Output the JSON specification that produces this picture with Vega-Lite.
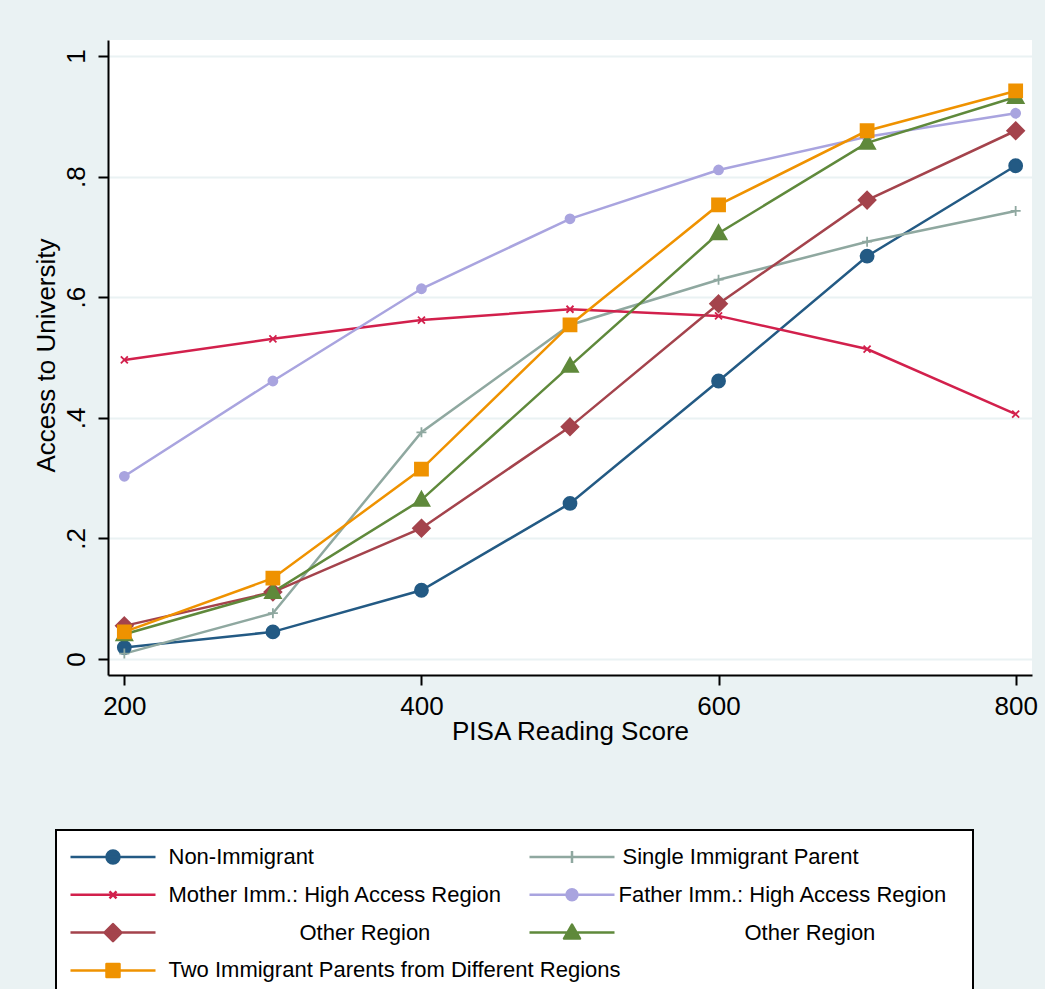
{
  "$schema": "https://vega.github.io/schema/vega-lite/v6.json",
  "background": "#eaf2f3",
  "padding": {"left": 33, "top": 40, "right": 0, "bottom": 0},
  "config": {"view": {"stroke": null, "fill": "white"}, "font": "Liberation Sans"},
  "spacing": 33,
  "resolve": {"scale": {"color": "independent", "shape": "independent"}, "legend": {"color": "independent", "shape": "independent"}},
  "datasets": {
    "d": [
      {"series": "Non-Immigrant", "score": 200, "access": 0.019},
      {"series": "Non-Immigrant", "score": 300, "access": 0.045},
      {"series": "Non-Immigrant", "score": 400, "access": 0.114},
      {"series": "Non-Immigrant", "score": 500, "access": 0.258},
      {"series": "Non-Immigrant", "score": 600, "access": 0.461},
      {"series": "Non-Immigrant", "score": 700, "access": 0.668},
      {"series": "Non-Immigrant", "score": 800, "access": 0.818},
      {"series": "Single Immigrant Parent", "score": 200, "access": 0.009},
      {"series": "Single Immigrant Parent", "score": 300, "access": 0.076},
      {"series": "Single Immigrant Parent", "score": 400, "access": 0.376},
      {"series": "Single Immigrant Parent", "score": 500, "access": 0.554},
      {"series": "Single Immigrant Parent", "score": 600, "access": 0.629},
      {"series": "Single Immigrant Parent", "score": 700, "access": 0.692},
      {"series": "Single Immigrant Parent", "score": 800, "access": 0.743},
      {"series": "Mother Imm.: High Access Region", "score": 200, "access": 0.496},
      {"series": "Mother Imm.: High Access Region", "score": 300, "access": 0.531},
      {"series": "Mother Imm.: High Access Region", "score": 400, "access": 0.562},
      {"series": "Mother Imm.: High Access Region", "score": 500, "access": 0.580},
      {"series": "Mother Imm.: High Access Region", "score": 600, "access": 0.569},
      {"series": "Mother Imm.: High Access Region", "score": 700, "access": 0.514},
      {"series": "Mother Imm.: High Access Region", "score": 800, "access": 0.406},
      {"series": "Father Imm.: High Access Region", "score": 200, "access": 0.303},
      {"series": "Father Imm.: High Access Region", "score": 300, "access": 0.461},
      {"series": "Father Imm.: High Access Region", "score": 400, "access": 0.614},
      {"series": "Father Imm.: High Access Region", "score": 500, "access": 0.730},
      {"series": "Father Imm.: High Access Region", "score": 600, "access": 0.811},
      {"series": "Father Imm.: High Access Region", "score": 700, "access": 0.866},
      {"series": "Father Imm.: High Access Region", "score": 800, "access": 0.905},
      {"series": "Mother Imm.: Other Region", "score": 200, "access": 0.055},
      {"series": "Mother Imm.: Other Region", "score": 300, "access": 0.111},
      {"series": "Mother Imm.: Other Region", "score": 400, "access": 0.217},
      {"series": "Mother Imm.: Other Region", "score": 500, "access": 0.385},
      {"series": "Mother Imm.: Other Region", "score": 600, "access": 0.589},
      {"series": "Mother Imm.: Other Region", "score": 700, "access": 0.761},
      {"series": "Mother Imm.: Other Region", "score": 800, "access": 0.876},
      {"series": "Father Imm.: Other Region", "score": 200, "access": 0.041},
      {"series": "Father Imm.: Other Region", "score": 300, "access": 0.111},
      {"series": "Father Imm.: Other Region", "score": 400, "access": 0.264},
      {"series": "Father Imm.: Other Region", "score": 500, "access": 0.486},
      {"series": "Father Imm.: Other Region", "score": 600, "access": 0.706},
      {"series": "Father Imm.: Other Region", "score": 700, "access": 0.856},
      {"series": "Father Imm.: Other Region", "score": 800, "access": 0.932},
      {"series": "Two Immigrant Parents from Different Regions", "score": 200, "access": 0.045},
      {"series": "Two Immigrant Parents from Different Regions", "score": 300, "access": 0.134},
      {"series": "Two Immigrant Parents from Different Regions", "score": 400, "access": 0.315},
      {"series": "Two Immigrant Parents from Different Regions", "score": 500, "access": 0.554},
      {"series": "Two Immigrant Parents from Different Regions", "score": 600, "access": 0.753},
      {"series": "Two Immigrant Parents from Different Regions", "score": 700, "access": 0.876},
      {"series": "Two Immigrant Parents from Different Regions", "score": 800, "access": 0.942}
    ]
  },
  "vconcat": [
    {
      "width": 924,
      "height": 635,
      "data": {"name": "d"},
      "encoding": {
        "x": {
          "field": "score", "type": "quantitative",
          "scale": {"domain": [189, 811], "nice": false, "zero": false},
          "axis": {
            "values": [200, 400, 600, 800], "title": "PISA Reading Score",
            "titleFontSize": 26, "titleFontWeight": "normal", "titleColor": "black",
            "titleX": 462, "titleY": 64, "titleBaseline": "alphabetic", "titleAlign": "center",
            "labelFontSize": 26, "labelColor": "black", "labelPadding": 8, "labelFlush": false, "labelOverlap": false,
            "tickSize": 10, "tickWidth": 2, "tickColor": "black",
            "domainColor": "black", "domainWidth": 2, "grid": false
          }
        },
        "y": {
          "field": "access", "type": "quantitative",
          "scale": {"domain": [-0.0265, 1.0265], "nice": false, "zero": false},
          "axis": {
            "values": [0, 0.2, 0.4, 0.6, 0.8, 1],
            "labelExpr": "datum.value == 0 ? '0' : datum.value == 1 ? '1' : replace(format(datum.value, '.1f'), '0.', '.')",
            "labelAngle": -90, "labelAlign": "center", "labelBaseline": "alphabetic", "labelPadding": 13.5,
            "labelFontSize": 26, "labelColor": "black", "labelFlush": false, "labelOverlap": false,
            "tickSize": 10, "tickWidth": 2, "tickColor": "black",
            "domainColor": "black", "domainWidth": 2,
            "grid": true, "gridColor": "#eaf2f3", "gridWidth": 2,
            "title": "Access to University", "titleX": -53.5, "titleY": 315, "titleAngle": -90,
            "titleBaseline": "alphabetic", "titleAlign": "center",
            "titleFontSize": 26, "titleFontWeight": "normal", "titleColor": "black"
          }
        },
        "color": {
          "field": "series", "type": "nominal",
          "scale": {
            "domain": ["Non-Immigrant", "Single Immigrant Parent", "Mother Imm.: High Access Region", "Father Imm.: High Access Region", "Mother Imm.: Other Region", "Father Imm.: Other Region", "Two Immigrant Parents from Different Regions"],
            "range": ["#235a84", "#8fa8a0", "#d2204c", "#a9a4df", "#a4434c", "#5f893b", "#ef9200"]
          },
          "legend": null
        }
      },
      "layer": [
        {"mark": {"type": "line", "strokeWidth": 2.5}},
        {
          "mark": {"type": "point", "filled": true, "size": 400, "strokeWidth": 1.8, "opacity": 1},
          "encoding": {
            "shape": {
              "field": "series", "type": "nominal",
              "scale": {
                "domain": ["Non-Immigrant", "Single Immigrant Parent", "Mother Imm.: High Access Region", "Father Imm.: High Access Region", "Mother Imm.: Other Region", "Father Imm.: Other Region", "Two Immigrant Parents from Different Regions"],
                "range": [
                  "M0.65,0A0.65,0.65,0,1,1,-0.65,0A0.65,0.65,0,1,1,0.65,0Z",
                  "M-0.5,0H0.5M0,-0.5V0.5",
                  "M-0.35,-0.35L0.35,0.35M-0.35,0.35L0.35,-0.35",
                  "M0.45,0A0.45,0.45,0,1,1,-0.45,0A0.45,0.45,0,1,1,0.45,0Z",
                  "M0,-0.85L0.85,0L0,0.85L-0.85,0Z",
                  "M0,-0.82L0.8,0.6L-0.8,0.6Z",
                  "M-0.65,-0.65H0.65V0.65H-0.65Z"
                ]
              },
              "legend": null
            },
            "stroke": {
              "field": "series", "type": "nominal",
              "scale": {
                "domain": ["Non-Immigrant", "Single Immigrant Parent", "Mother Imm.: High Access Region", "Father Imm.: High Access Region", "Mother Imm.: Other Region", "Father Imm.: Other Region", "Two Immigrant Parents from Different Regions"],
                "range": ["#235a84", "#8fa8a0", "#d2204c", "#a9a4df", "#a4434c", "#5f893b", "#ef9200"]
              },
              "legend": null
            }
          }
        }
      ]
    },
    {
      "width": 938,
      "height": 211,
      "data": {"name": "d"},
      "transform": [{"filter": "datum.score == 200"}],
      "resolve": {"scale": {"color": "independent"}, "legend": {"color": "independent"}},
      "layer": [
        {
          "transform": [{"filter": {"field": "series", "oneOf": ["Non-Immigrant", "Mother Imm.: High Access Region", "Mother Imm.: Other Region", "Two Immigrant Parents from Different Regions"]}}],
          "mark": {"type": "point", "filled": true, "opacity": 0},
          "encoding": {
            "color": {
              "field": "series", "type": "nominal",
              "scale": {
                "domain": ["Non-Immigrant", "Mother Imm.: High Access Region", "Mother Imm.: Other Region", "Two Immigrant Parents from Different Regions"],
                "range": ["#235a84", "#d2204c", "#a4434c", "#ef9200"]
              },
              "legend": {
                "orient": "none", "legendX": -52, "legendY": 53, "title": null, "zindex": 0,
                "direction": "vertical",
                "fillColor": "white", "strokeColor": "black", "padding": 16,
                "symbolSize": 100, "symbolStrokeWidth": 2.5, "symbolOffset": 30,
                "labelFontSize": 22, "labelColor": "black", "labelFont": "Liberation Sans",
                "labelOffset": 44.5, "labelLimit": 900,
                "rowPadding": 15.8,
                "labelExpr": "indexof(datum.value, 'Other Region') >= 0 ? 'Other Region' : indexof(datum.value, 'Two Immigrant') == 0 ? pad(datum.label, 99, '\u00a0', 'right') + '\u200b' : datum.label",
                "encode": {
                  "legend": {"update": {"strokeWidth": {"value": 2}}},
                  "symbols": {
                    "update": {
                      "opacity": {"value": 1},
                      "strokeWidth": {"value": 2.5},
                      "strokeJoin": {"value": "round"},
                      "shape": {"signal": "['M-8.5,0H8.5M1.3,0A1.3,1.3,0,1,1,-1.3,0A1.3,1.3,0,1,1,1.3,0Z','M-8.5,0H8.5M0,-1.2V1.2','M-8.5,0H8.5M-0.7,-0.7L0.7,0.7M-0.7,0.7L0.7,-0.7','M-8.5,0H8.5M1.1,0A1.1,1.1,0,1,1,-1.1,0A1.1,1.1,0,1,1,1.1,0Z','M-8.5,0H8.5M0,-1.7L1.7,0L0,1.7L-1.7,0Z','M-8.5,0H8.5M0,-1.6L1.6,1.2L-1.6,1.2Z','M-8.5,0H8.5M-1.3,-1.3H1.3V1.3H-1.3Z'][indexof(['Non-Immigrant','Single Immigrant Parent','Mother Imm.: High Access Region','Father Imm.: High Access Region','Mother Imm.: Other Region','Father Imm.: Other Region','Two Immigrant Parents from Different Regions'], datum.value)]"},
                      "fill": {"signal": "['#235a84','#8fa8a0','#d2204c','#a9a4df','#a4434c','#5f893b','#ef9200'][indexof(['Non-Immigrant','Single Immigrant Parent','Mother Imm.: High Access Region','Father Imm.: High Access Region','Mother Imm.: Other Region','Father Imm.: Other Region','Two Immigrant Parents from Different Regions'], datum.value)]"},
                      "stroke": {"signal": "['#235a84','#8fa8a0','#d2204c','#a9a4df','#a4434c','#5f893b','#ef9200'][indexof(['Non-Immigrant','Single Immigrant Parent','Mother Imm.: High Access Region','Father Imm.: High Access Region','Mother Imm.: Other Region','Father Imm.: Other Region','Two Immigrant Parents from Different Regions'], datum.value)]"}
                    }
                  },
                  "labels": {
                    "update": {
                      "dx": {"signal": "datum.value == 'Mother Imm.: Other Region' ? 131 : 0"}
                    }
                  }
                }
              }
            }
          }
        },
        {
          "transform": [{"filter": {"field": "series", "oneOf": ["Single Immigrant Parent", "Father Imm.: High Access Region", "Father Imm.: Other Region"]}}],
          "mark": {"type": "point", "filled": true, "opacity": 0},
          "encoding": {
            "color": {
              "field": "series", "type": "nominal",
              "scale": {
                "domain": ["Single Immigrant Parent", "Father Imm.: High Access Region", "Father Imm.: Other Region"],
                "range": ["#8fa8a0", "#a9a4df", "#5f893b"]
              },
              "legend": {
                "orient": "none", "legendX": 407, "legendY": 53, "title": null, "zindex": 1,
                "direction": "vertical",
                "padding": 16,
                "symbolSize": 100, "symbolStrokeWidth": 2.5, "symbolOffset": 30,
                "labelFontSize": 22, "labelColor": "black", "labelFont": "Liberation Sans",
                "labelOffset": 44.5, "labelLimit": 900,
                "rowPadding": 15.8,
                "labelExpr": "indexof(datum.value, 'Other Region') >= 0 ? 'Other Region' : datum.label",
                "encode": {
                  "symbols": {
                    "update": {
                      "opacity": {"value": 1},
                      "strokeWidth": {"value": 2.5},
                      "strokeJoin": {"value": "round"},
                      "shape": {"signal": "['M-8.5,0H8.5M1.3,0A1.3,1.3,0,1,1,-1.3,0A1.3,1.3,0,1,1,1.3,0Z','M-8.5,0H8.5M0,-1.2V1.2','M-8.5,0H8.5M-0.7,-0.7L0.7,0.7M-0.7,0.7L0.7,-0.7','M-8.5,0H8.5M1.1,0A1.1,1.1,0,1,1,-1.1,0A1.1,1.1,0,1,1,1.1,0Z','M-8.5,0H8.5M0,-1.7L1.7,0L0,1.7L-1.7,0Z','M-8.5,0H8.5M0,-1.6L1.6,1.2L-1.6,1.2Z','M-8.5,0H8.5M-1.3,-1.3H1.3V1.3H-1.3Z'][indexof(['Non-Immigrant','Single Immigrant Parent','Mother Imm.: High Access Region','Father Imm.: High Access Region','Mother Imm.: Other Region','Father Imm.: Other Region','Two Immigrant Parents from Different Regions'], datum.value)]"},
                      "fill": {"signal": "['#235a84','#8fa8a0','#d2204c','#a9a4df','#a4434c','#5f893b','#ef9200'][indexof(['Non-Immigrant','Single Immigrant Parent','Mother Imm.: High Access Region','Father Imm.: High Access Region','Mother Imm.: Other Region','Father Imm.: Other Region','Two Immigrant Parents from Different Regions'], datum.value)]"},
                      "stroke": {"signal": "['#235a84','#8fa8a0','#d2204c','#a9a4df','#a4434c','#5f893b','#ef9200'][indexof(['Non-Immigrant','Single Immigrant Parent','Mother Imm.: High Access Region','Father Imm.: High Access Region','Mother Imm.: Other Region','Father Imm.: Other Region','Two Immigrant Parents from Different Regions'], datum.value)]"}
                    }
                  },
                  "labels": {
                    "update": {
                      "dx": {"signal": "datum.value == 'Father Imm.: Other Region' ? 117 : datum.value == 'Father Imm.: High Access Region' ? -9 : -5"}
                    }
                  }
                }
              }
            }
          }
        }
      ]
    }
  ]
}
